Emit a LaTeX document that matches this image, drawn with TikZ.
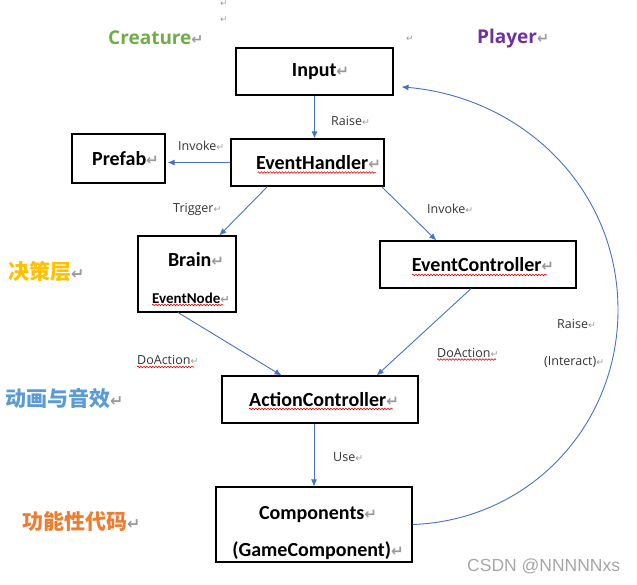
\documentclass[tikz,border=0pt]{standalone}
\usepackage{fontspec}
\setmainfont{Carlito}
\newfontfamily\lblfont{Open Sans}
\newfontfamily\cjkfont{Noto Sans CJK SC}
\newfontfamily\retfont{DejaVu Sans}
\newfontfamily\wmfont{Liberation Sans}
\usepackage{tikz}
\usetikzlibrary{arrows.meta, positioning, decorations.pathmorphing}
\definecolor{arrowblue}{HTML}{4472C4}
\definecolor{crgreen}{HTML}{70AD47}
\definecolor{plpurple}{HTML}{7030A0}
\definecolor{lyrgold}{HTML}{FFC000}
\definecolor{lyrblue}{HTML}{5B9BD5}
\definecolor{lyrorange}{HTML}{ED7D31}
\definecolor{retgray}{HTML}{9A9A9A}
\newcommand{\rt}{{\retfont\color{retgray}\scalebox{0.75}{↵}}}
\newcommand{\pad}[1]{\hspace*{#1pt}}
\tikzset{
  boxnode/.style={draw=black,line width=1.1pt,rectangle,inner sep=0pt,align=center,font=\bfseries\fontsize{20}{37}\selectfont},
  lblnode/.style={inner sep=0pt,anchor=west,font=\lblfont\fontsize{12.5}{15}\selectfont,text=black!80},
  layernode/.style={inner sep=0pt,anchor=west,font=\cjkfont\bfseries\fontsize{21}{25}\selectfont},
  rolenode/.style={inner sep=0pt,anchor=west,font=\lblfont\bfseries\fontsize{19}{23}\selectfont},
  retnode/.style={inner sep=0pt,font=\fontsize{12}{14}\selectfont},
  flowedge/.style={-{Latex[length=7pt,width=6pt]},arrowblue,line width=0.9pt},
  wavy/.style={red!90!black,line width=0.6pt,decorate,decoration={snake,amplitude=0.8pt,segment length=3pt}},
}

\begin{document}
\begin{tikzpicture}[x=1pt,y=1pt]
  \useasboundingbox (0,0) rectangle (637,-584);
  % stray paragraph marks
  \node[retnode] (ret1) at (224,-4) {\rt};
  \node[retnode] (ret2) at (224,-20) {\rt};
  \node[retnode] (ret3) at (410,-39) {\rt};
  % roles and layers
  \node[rolenode,text=crgreen] (creature) at (108,-38) {Creature\rt};
  \node[rolenode,text=plpurple] (player) at (477,-39) {Player\rt};
  \node[layernode,text=lyrgold] (decide) at (8,-272) {决策层\rt};
  \node[layernode,text=lyrblue] (anim) at (5,-398) {动画与音效\rt};
  \node[layernode,text=lyrorange] (func) at (22,-522) {功能性代码\rt};
  % boxes
  \node[boxnode,minimum width=157,minimum height=47] (input) at (314.5,-71.5) {\pad{12}Input\rt};
  \node[boxnode,minimum width=153,minimum height=47] (eh) at (307.5,-162.5) {\pad{22}EventHandler\rt};
  \node[boxnode,minimum width=93,minimum height=49] (prefab) at (118.5,-158.5) {\pad{14}Prefab\rt};
  \node[boxnode,minimum width=98,minimum height=76] (brain) at (187,-274)
    {\rule{0pt}{23pt}\pad{18}Brain\rt\\{\fontsize{15}{37}\selectfont\pad{8}EventNode\rt}};
  \node[boxnode,minimum width=196,minimum height=47] (ec) at (478,-264.5) {\pad{10}EventController\rt};
  \node[boxnode,minimum width=196,minimum height=47] (ac) at (320,-399.5) {\pad{8}ActionController\rt};
  \node[boxnode,minimum width=196,minimum height=75] (comp) at (314,-524.5)
    {\rule{0pt}{31pt}\pad{8}Components\rt\\\pad{8}(GameComponent)\rt};
  % edge labels
  \node[lblnode] (raiseA) at (331,-121) {Raise\rt};
  \node[lblnode] (invokeA) at (178,-146) {Invoke\rt};
  \node[lblnode] (trigger) at (173,-209) {Trigger\rt};
  \node[lblnode] (invokeB) at (427,-209) {Invoke\rt};
  \node[lblnode] (doA) at (137,-360) {DoAction\rt};
  \node[lblnode] (doB) at (437,-352.5) {DoAction\rt};
  \node[lblnode] (raiseB) at (557,-324) {Raise\rt};
  \node[lblnode] (interact) at (544,-362) {(Interact)\rt};
  \node[lblnode] (use) at (333,-457) {Use\rt};
  % edges
  \draw[flowedge] (input.south) -- (input.south |- eh.north);
  \draw[flowedge] (eh.west) -- ([xshift=2]eh.west -| prefab.east);
  \draw[flowedge] (eh.211) -- (brain.50);
  \draw[flowedge] (eh.342) -- (ec.150);
  \draw[flowedge] (brain.257) -- (ac.148);
  \draw[flowedge] (ec.254) -- (ac.23);
  \draw[flowedge] (comp.north |- ac.south) -- (comp.north);
  \coordinate (bend) at (618,-310);
  \draw[flowedge] (comp.east) to[out=2,in=-90] (bend) to[out=90,in=-5] ([xshift=8]input.-11);
  % spell-check marks
  \draw[wavy] ([shift={(-50,-10)}]eh.center) -- ++(118,0);
  \draw[wavy] ([shift={(-66,-10.5)}]ec.center) -- ++(135,0);
  \draw[wavy] ([shift={(-35,-31)}]brain.center) -- ++(71,0);
  \draw[wavy] ([shift={(-71,-9.5)}]ac.center) -- ++(144,0);
  \draw[wavy] ([yshift=-7]doA.west) -- ++(57,0);
  \draw[wavy] ([yshift=-7]doB.west) -- ++(59,0);
  % watermark
  \node[inner sep=0pt,anchor=west,font=\wmfont\fontsize{17.5}{20}\selectfont,text=black!35] (wm) at (467,-566) {CSDN @NNNNNxs};
\end{tikzpicture}
\end{document}
